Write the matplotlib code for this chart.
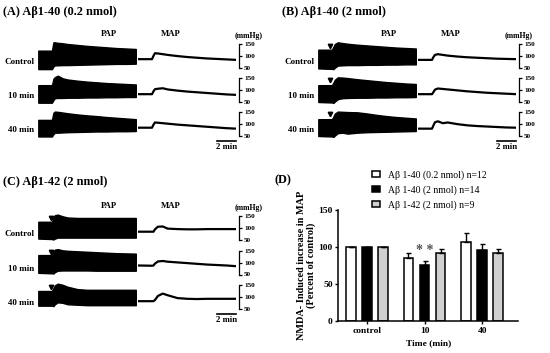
import matplotlib.pyplot as plt
from matplotlib.patches import Patch

W, H = 550, 353
plt.rcParams['font.family'] = ['Liberation Serif', 'DejaVu Serif']

# shared time grid of all recordings (min)
t_min = [0, 1.4, 1.55, 1.7, 2.0, 2.5, 3, 4, 5, 6, 7, 8, 9, 10]
row_names = ['Control', '10 min', '40 min']

# (A) Abeta1-40 0.2 nmol : PAP envelope (upper / lower) and MAP, mmHg
a_ctrl_hi = [122, 122, 157, 157, 155, 153, 150, 146, 142, 139, 136, 133, 131, 129]
a_ctrl_lo = [44, 44, 55, 60, 60, 61, 61, 62, 63, 64, 65, 66, 66, 67]
a_ctrl_map = [86, 86, 100, 111, 110, 107, 104, 99, 95, 92, 89, 87, 85, 83]
a_10_hi = [121, 121, 148, 155, 161, 150, 145, 140, 136, 133, 130, 128, 126, 124]
a_10_lo = [47, 47, 58, 66, 67, 67, 68, 68, 69, 69, 70, 70, 71, 71]
a_10_map = [83, 83, 95, 104, 106, 108, 103, 98, 94, 91, 88, 85, 82, 80]
a_40_hi = [118, 118, 148, 153, 152, 149, 146, 141, 137, 134, 130, 127, 124, 121]
a_40_lo = [48, 48, 58, 64, 64, 65, 66, 67, 68, 69, 69, 70, 70, 71]
a_40_map = [85, 85, 98, 107, 106, 104, 102, 98, 95, 92, 89, 86, 83, 81]

# (B) Abeta1-40 2 nmol
b_ctrl_hi = [126, 126, 138, 150, 157, 154, 151, 147, 144, 141, 138, 135, 133, 131]
b_ctrl_lo = [47, 45, 44, 50, 59, 60, 61, 61, 62, 62, 63, 63, 64, 64]
b_ctrl_map = [83, 83, 95, 104, 107, 104, 101, 97, 94, 92, 90, 88, 87, 86]
b_10_hi = [121, 121, 132, 144, 154, 153, 151, 146, 142, 138, 134, 131, 128, 126]
b_10_lo = [50, 48, 46, 52, 62, 66, 67, 68, 68, 69, 69, 70, 70, 71]
b_10_map = [83, 83, 92, 102, 107, 105, 103, 99, 95, 92, 89, 87, 85, 83]
b_40_hi = [121, 121, 132, 145, 153, 152, 151, 150, 145, 139, 134, 130, 127, 124]
b_40_lo = [50, 48, 46, 52, 62, 64, 60, 64, 66, 67, 68, 69, 70, 71]
b_40_map = [81, 81, 95, 108, 112, 104, 107, 100, 95, 92, 90, 88, 86, 85]

# (C) Abeta1-42 2 nmol
c_ctrl_hi = [127, 127, 145, 155, 157, 150, 145, 143, 143, 143, 143, 143, 143, 143]
c_ctrl_lo = [56, 54, 52, 56, 60, 60, 60, 60, 60, 60, 60, 60, 60, 60]
c_ctrl_map = [85, 85, 85, 95, 106, 107, 98, 96, 95, 95, 96, 96, 96, 96]
c_10_hi = [132, 132, 148, 155, 157, 152, 150, 148, 146, 144, 142, 140, 139, 138]
c_10_lo = [57, 55, 54, 60, 66, 67, 67, 67, 67, 66, 66, 66, 66, 66]
c_10_map = [88, 87, 88, 96, 105, 107, 104, 101, 98, 95, 92, 90, 88, 85]
c_40_hi = [126, 126, 138, 150, 157, 152, 144, 134, 131, 131, 131, 131, 131, 131]
c_40_lo = [64, 64, 62, 70, 78, 76, 70, 68, 66, 66, 66, 66, 66, 66]
c_40_map = [83, 83, 83, 88, 105, 115, 108, 96, 93, 92, 93, 93, 93, 93]

# injection marks (min, mmHg) for panels B and C
b_mark = (1.15, 143)
c_mark = (1.26, 144)

# (D) NMDA-induced increase in MAP, % of control
groups = ['control', '10', '40']
ab40_low_mean = [100, 85.6, 107]
ab40_low_err = [0, 6.7, 12]
ab40_high_mean = [100, 75.7, 96]
ab40_high_err = [0, 5.8, 8]
ab42_mean = [100, 91.4, 92.3]
ab42_err = [0, 6.3, 5]
series_labels = ['A\u03b2 1-40 (0.2 nmol) n=12',
                 'A\u03b2 1-40 (2 nmol) n=14',
                 'A\u03b2 1-42 (2 nmol) n=9']

K = 0.237  # px per mmHg in the trace rows
YLO, YHI = 20, 170


def px_axes(fig, x, y, w, h):
    """Add axes given in pixel coords (top-left origin)."""
    return fig.add_axes([x / W, 1 - (y + h) / H, w / W, h / H])


def ftext(fig, x, y, s, **kw):
    fig.text(x / W, 1 - y / H, s, **kw)


def draw_trace_panel(fig, title, tx, ty, pap_x, map_x, y50s, rows,
                     mark=None, mmhg_x=1.13):
    ftext(fig, tx, ty, title, fontsize=8.8, fontweight='bold', va='center')
    h = (YHI - YLO) * K
    for i, (hi, lo, mp) in enumerate(rows):
        bottom = y50s[i] + (50 - YLO) * K
        ax_p = px_axes(fig, pap_x, bottom - h, 97.5, h)
        ax_m = px_axes(fig, map_x, bottom - h, 98, h)
        for ax in (ax_p, ax_m):
            ax.set_xlim(0, 10)
            ax.set_ylim(YLO, YHI)
            ax.patch.set_visible(False)
            for s in ('left', 'top', 'bottom'):
                ax.spines[s].set_visible(False)
            ax.set_xticks([])
        ax_p.spines['right'].set_visible(False)
        ax_p.set_yticks([])
        ax_p.fill_between(t_min, lo, hi, color='black', lw=1.0)
        ax_m.plot(t_min, mp, color='black', lw=1.6)

        # mmHg bracket on the right
        ax_m.spines['right'].set_bounds(50, 150)
        ax_m.spines['right'].set_position(('outward', 2.2))
        ax_m.spines['right'].set_linewidth(0.9)
        ax_m.yaxis.tick_right()
        ax_m.set_yticks([50, 100, 150])
        ax_m.tick_params(axis='y', length=2, width=0.9, pad=1.5,
                         labelsize=5.2)
        for lab in ax_m.get_yticklabels():
            lab.set_fontweight('bold')

        ax_p.text(-0.04, (75 - YLO) / (YHI - YLO), row_names[i],
                  transform=ax_p.transAxes, ha='right', va='center',
                  fontsize=6.5, fontweight='bold')
        if mark is not None:
            ax_p.plot([mark[0]], [mark[1]], marker='v', color='black',
                      markersize=3.2, clip_on=False)
        if i == 0:
            ax_p.text(0.72, 1.15, 'PAP', transform=ax_p.transAxes,
                      ha='center', va='center', fontsize=6.2,
                      fontweight='bold')
            ax_m.text(0.33, 1.15, 'MAP', transform=ax_m.transAxes,
                      ha='center', va='center', fontsize=6.2,
                      fontweight='bold')
            ax_m.text(mmhg_x, 1.1, '(mmHg)', transform=ax_m.transAxes,
                      ha='center', va='center', fontsize=5.6,
                      fontweight='bold')
        if i == 2:
            ax_m.plot([8, 10], [29, 29], color='black', lw=1.2,
                      clip_on=False)
            ax_m.text(9, 2, '2 min', ha='center', va='center',
                      fontsize=6.3, fontweight='bold')


def draw_bar_panel(fig):
    ax = px_axes(fig, 338.3, 210, 180, 111)
    x = list(range(len(groups)))
    width, step = 0.165, 0.28
    styles = [('white', ab40_low_mean, ab40_low_err),
              ('black', ab40_high_mean, ab40_high_err),
              ('#d0d0d0', ab42_mean, ab42_err)]
    handles = []
    for j, (col, mean, err) in enumerate(styles):
        xs = [v + (j - 1) * step for v in x]
        ax.bar(xs, mean, width=width, color=col, edgecolor='black',
               linewidth=1.1, zorder=2)
        ax.errorbar(xs, mean, yerr=[[0] * len(err), err], fmt='none',
                    ecolor='black', elinewidth=1.0, capsize=1.8,
                    capthick=1.0, zorder=3)
        handles.append(Patch(facecolor=col, edgecolor='black',
                             linewidth=1.1, label=series_labels[j]))

    ax.text(x[1], 95, '* *', ha='center', va='center', fontsize=10,
            color='#555555', fontweight='bold')

    ax.set_xlim(-0.5, 2.63)
    ax.set_ylim(0, 150)
    ax.set_yticks([0, 50, 100, 150])
    ax.set_xticks(x)
    ax.set_xticklabels(groups)
    ax.tick_params(labelsize=6.8, length=2.5, width=1, pad=1.5)
    for lab in ax.get_xticklabels() + ax.get_yticklabels():
        lab.set_fontweight('bold')
    for s in ('top', 'right'):
        ax.spines[s].set_visible(False)
    for s in ('left', 'bottom'):
        ax.spines[s].set_linewidth(1.1)
    ax.set_xlabel('Time (min)', fontsize=6.8, fontweight='bold', labelpad=3)
    ax.set_ylabel('NMDA- Induced increase in MAP\n(Percent of control)',
                  fontsize=7.4, fontweight='bold', labelpad=1.5,
                  linespacing=1.05)

    fig.legend(handles=handles, loc='upper left',
               bbox_to_anchor=(371.5 / W, 1 - 170 / H), frameon=False,
               fontsize=7, handlelength=0.85, handleheight=0.55,
               handletextpad=0.85, labelspacing=0.55, borderpad=0,
               borderaxespad=0)
    ftext(fig, 283, 180, '(D)', fontsize=8.8, fontweight='bold',
          va='center', ha='center')


def main():
    fig = plt.figure(figsize=(W / 100, H / 100), dpi=100)

    draw_trace_panel(fig, '(A) A\u03b21-40 (0.2 nmol)', 3, 12.3, 38.3, 138.3,
                     [67.7, 102, 136],
                     [(a_ctrl_hi, a_ctrl_lo, a_ctrl_map),
                      (a_10_hi, a_10_lo, a_10_map),
                      (a_40_hi, a_40_lo, a_40_map)])
    draw_trace_panel(fig, '(B) A\u03b21-40 (2 nmol)', 281.7, 12.3, 318.3, 418.3,
                     [67.7, 102, 136],
                     [(b_ctrl_hi, b_ctrl_lo, b_ctrl_map),
                      (b_10_hi, b_10_lo, b_10_map),
                      (b_40_hi, b_40_lo, b_40_map)], mark=b_mark,
                     mmhg_x=1.02)
    draw_trace_panel(fig, '(C) A\u03b21-42 (2 nmol)', 3, 182.3, 38.3, 138.3,
                     [240, 274.5, 309],
                     [(c_ctrl_hi, c_ctrl_lo, c_ctrl_map),
                      (c_10_hi, c_10_lo, c_10_map),
                      (c_40_hi, c_40_lo, c_40_map)], mark=c_mark)
    draw_bar_panel(fig)

    fig.savefig('out.png', dpi=100)
    plt.close(fig)


if __name__ == '__main__':
    main()
